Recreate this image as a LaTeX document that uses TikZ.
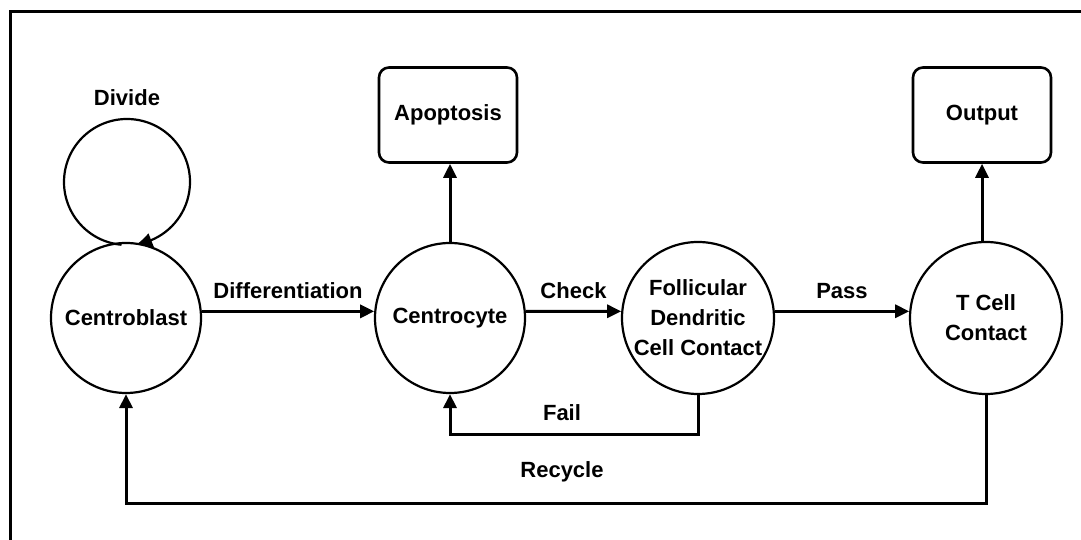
\documentclass[tikz,border=0pt]{standalone}
\usepackage{fontspec}
\setmainfont{Liberation Sans}
\usetikzlibrary{arrows.meta,bending}
\begin{document}
\begin{tikzpicture}[x=1pt,y=1pt,
  lbl/.style={font=\bfseries\fontsize{22}{30}\selectfont, inner sep=0pt},
  state/.style={circle, draw, line width=2.2pt, minimum size=150pt, inner sep=0pt, align=center, lbl},
  endbox/.style={draw, line width=2.6pt, rounded corners=10pt, minimum width=138pt, minimum height=95pt, lbl},
  conn/.style={line width=3pt, -{Triangle[length=14pt,width=13pt]}},
  plain/.style={line width=3pt}]
\useasboundingbox (0,0) rectangle (1081,540);
\draw[line width=3pt] (10,0) -- (10,528) -- (1081,528);
% nodes
\node[state] (cb) at (126,222) {Centroblast};
\node[state] (cy) at (450,222) {Centrocyte};
\node[state, minimum size=152pt] (fdc) at (698,222) {Follicular\\Dendritic\\Cell Contact};
\node[state, minimum size=152pt] (tc) at (986,222) {T Cell\\Contact};
\node[endbox] (apop) at (448,425) {Apoptosis};
\node[endbox] (out) at (982,425) {Output};
% self loop
\coordinate (loopc) at (127,358);
\node[lbl] (divlbl) at (127,442) {Divide};
\draw[line width=2.2pt, -{Triangle[length=15pt,width=14pt,bend]}]
  ([shift={(265:63)}]loopc) arc[start angle=265, end angle=-81, radius=63];
% main flow
\draw[conn] (cb.5) -- node[lbl, above=11pt] (difflbl) {Differentiation} (cy.175);
\draw[conn] (cy.5) -- node[lbl, above=11pt] (checklbl) {Check} (fdc.175);
\draw[conn] (fdc.5) -- node[lbl, above=11pt] (passlbl) {Pass} (tc.175);
\draw[conn] (cy.north) -- (cy.north |- apop.south);
\draw[conn] (tc.north -| out.south) -- (out.south);
% fail loop
\coordinate (failc) at (698,105);
\draw[conn] (fdc.south) -- (failc) -- (failc -| cy.south) -- (cy.south);
\node[lbl] (faillbl) at (562,127) {Fail};
% recycle loop
\coordinate (recc) at (986,36);
\draw[conn] (tc.south) -- (recc) -- (recc -| cb.south) -- (cb.south);
\node[lbl] (reclbl) at (562,68) {Recycle};
\end{tikzpicture}
\end{document}
